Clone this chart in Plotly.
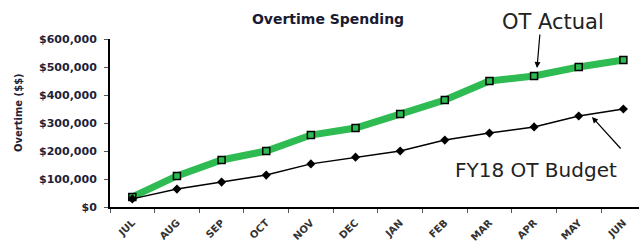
import plotly.graph_objects as go

months = ["JUL", "AUG", "SEP", "OCT", "NOV", "DEC", "JAN", "FEB", "MAR", "APR", "MAY", "JUN"]
ot_actual = [36000, 111000, 168000, 200000, 257000, 282000, 332000, 382000, 450000, 468000, 500000, 525000]
ot_budget = [29000, 64000, 89000, 114000, 154000, 178000, 200000, 239000, 264000, 286000, 325000, 350000]
y_ticks = [0, 100000, 200000, 300000, 400000, 500000, 600000]
y_labels = ["$0", "$100,000", "$200,000", "$300,000", "$400,000", "$500,000", "$600,000"]

L, R, T, B = 110, 639, 39, 207  # plot area in pixels
def px(x):
    return (x - L) / (R - L)
def py(y):
    return (B - y) / (B - T)

fig = go.Figure()
fig.add_trace(go.Scatter(
    x=months, y=ot_actual, mode="lines+markers", name="OT Actual",
    line=dict(color="#2dbb52", width=7),
    marker=dict(symbol="square", size=7, color="#2dbb52", line=dict(color="black", width=1.5)),
))
fig.add_trace(go.Scatter(
    x=months, y=ot_budget, mode="lines+markers", name="FY18 OT Budget",
    line=dict(color="black", width=1.5),
    marker=dict(symbol="diamond", size=7, color="black"),
))

fig.update_layout(
    width=639, height=244,
    margin=dict(l=L, r=639 - R, t=T, b=244 - B),
    paper_bgcolor="white", plot_bgcolor="white",
    showlegend=False,
    font=dict(family="DejaVu Sans, sans-serif", color="#1f1f3a"),
    title=dict(text="<b>Overtime Spending</b>", x=328 / 639, xanchor="center",
               y=1 - 19 / 244, yanchor="middle",
               font=dict(size=14, color="#1a1a30")),
)
fig.update_xaxes(
    type="category", range=[-0.5, 11.35], automargin=False,
    showline=True, linecolor="black", linewidth=2,
    ticks="outside", tickson="boundaries", ticklen=4, tickcolor="#555",
    tickangle=-45, tickfont=dict(size=10, color="#333"),
    ticktext=["<b>%s</b>" % m for m in months], tickvals=months,
    ticklabelstandoff=4,
    showgrid=False,
)
fig.update_yaxes(
    range=[0, 600000], tickvals=y_ticks, ticktext=["<b>%s</b>" % s for s in y_labels],
    automargin=False,
    showline=True, linecolor="black", linewidth=2,
    ticks="outside", ticklen=4, tickcolor="#555",
    tickfont=dict(size=11, color="#1f1f3a"),
    ticklabelstandoff=5,
    showgrid=False,
)

fig.add_annotation(x=px(18), y=py(113), xref="paper", yref="paper", xanchor="center", yanchor="middle",
                   text="<b>Overtime ($$)</b>", textangle=-90, showarrow=False,
                   font=dict(size=10, color="#1f1f3a"))
fig.add_annotation(x=px(553), y=py(22), xref="paper", yref="paper", xanchor="center", yanchor="middle",
                   text="OT Actual", showarrow=False, font=dict(size=21, color="#222"))
fig.add_annotation(x=px(536), y=py(170), xref="paper", yref="paper", xanchor="center", yanchor="middle",
                   text="FY18 OT Budget", showarrow=False, font=dict(size=20, color="#222"))

fig.add_annotation(x=px(537), y=py(68), xref="paper", yref="paper", ax=3, ay=-35,
                   text="", showarrow=True, arrowhead=2, arrowsize=1, arrowwidth=1.2,
                   arrowcolor="black")
fig.add_annotation(x=px(592), y=py(117), xref="paper", yref="paper", ax=30, ay=33,
                   text="", showarrow=True, arrowhead=2, arrowsize=1, arrowwidth=1.2,
                   arrowcolor="black")
fig.write_html("out.html", config={"displayModeBar": False},
               post_script="document.body.style.margin='0';")
